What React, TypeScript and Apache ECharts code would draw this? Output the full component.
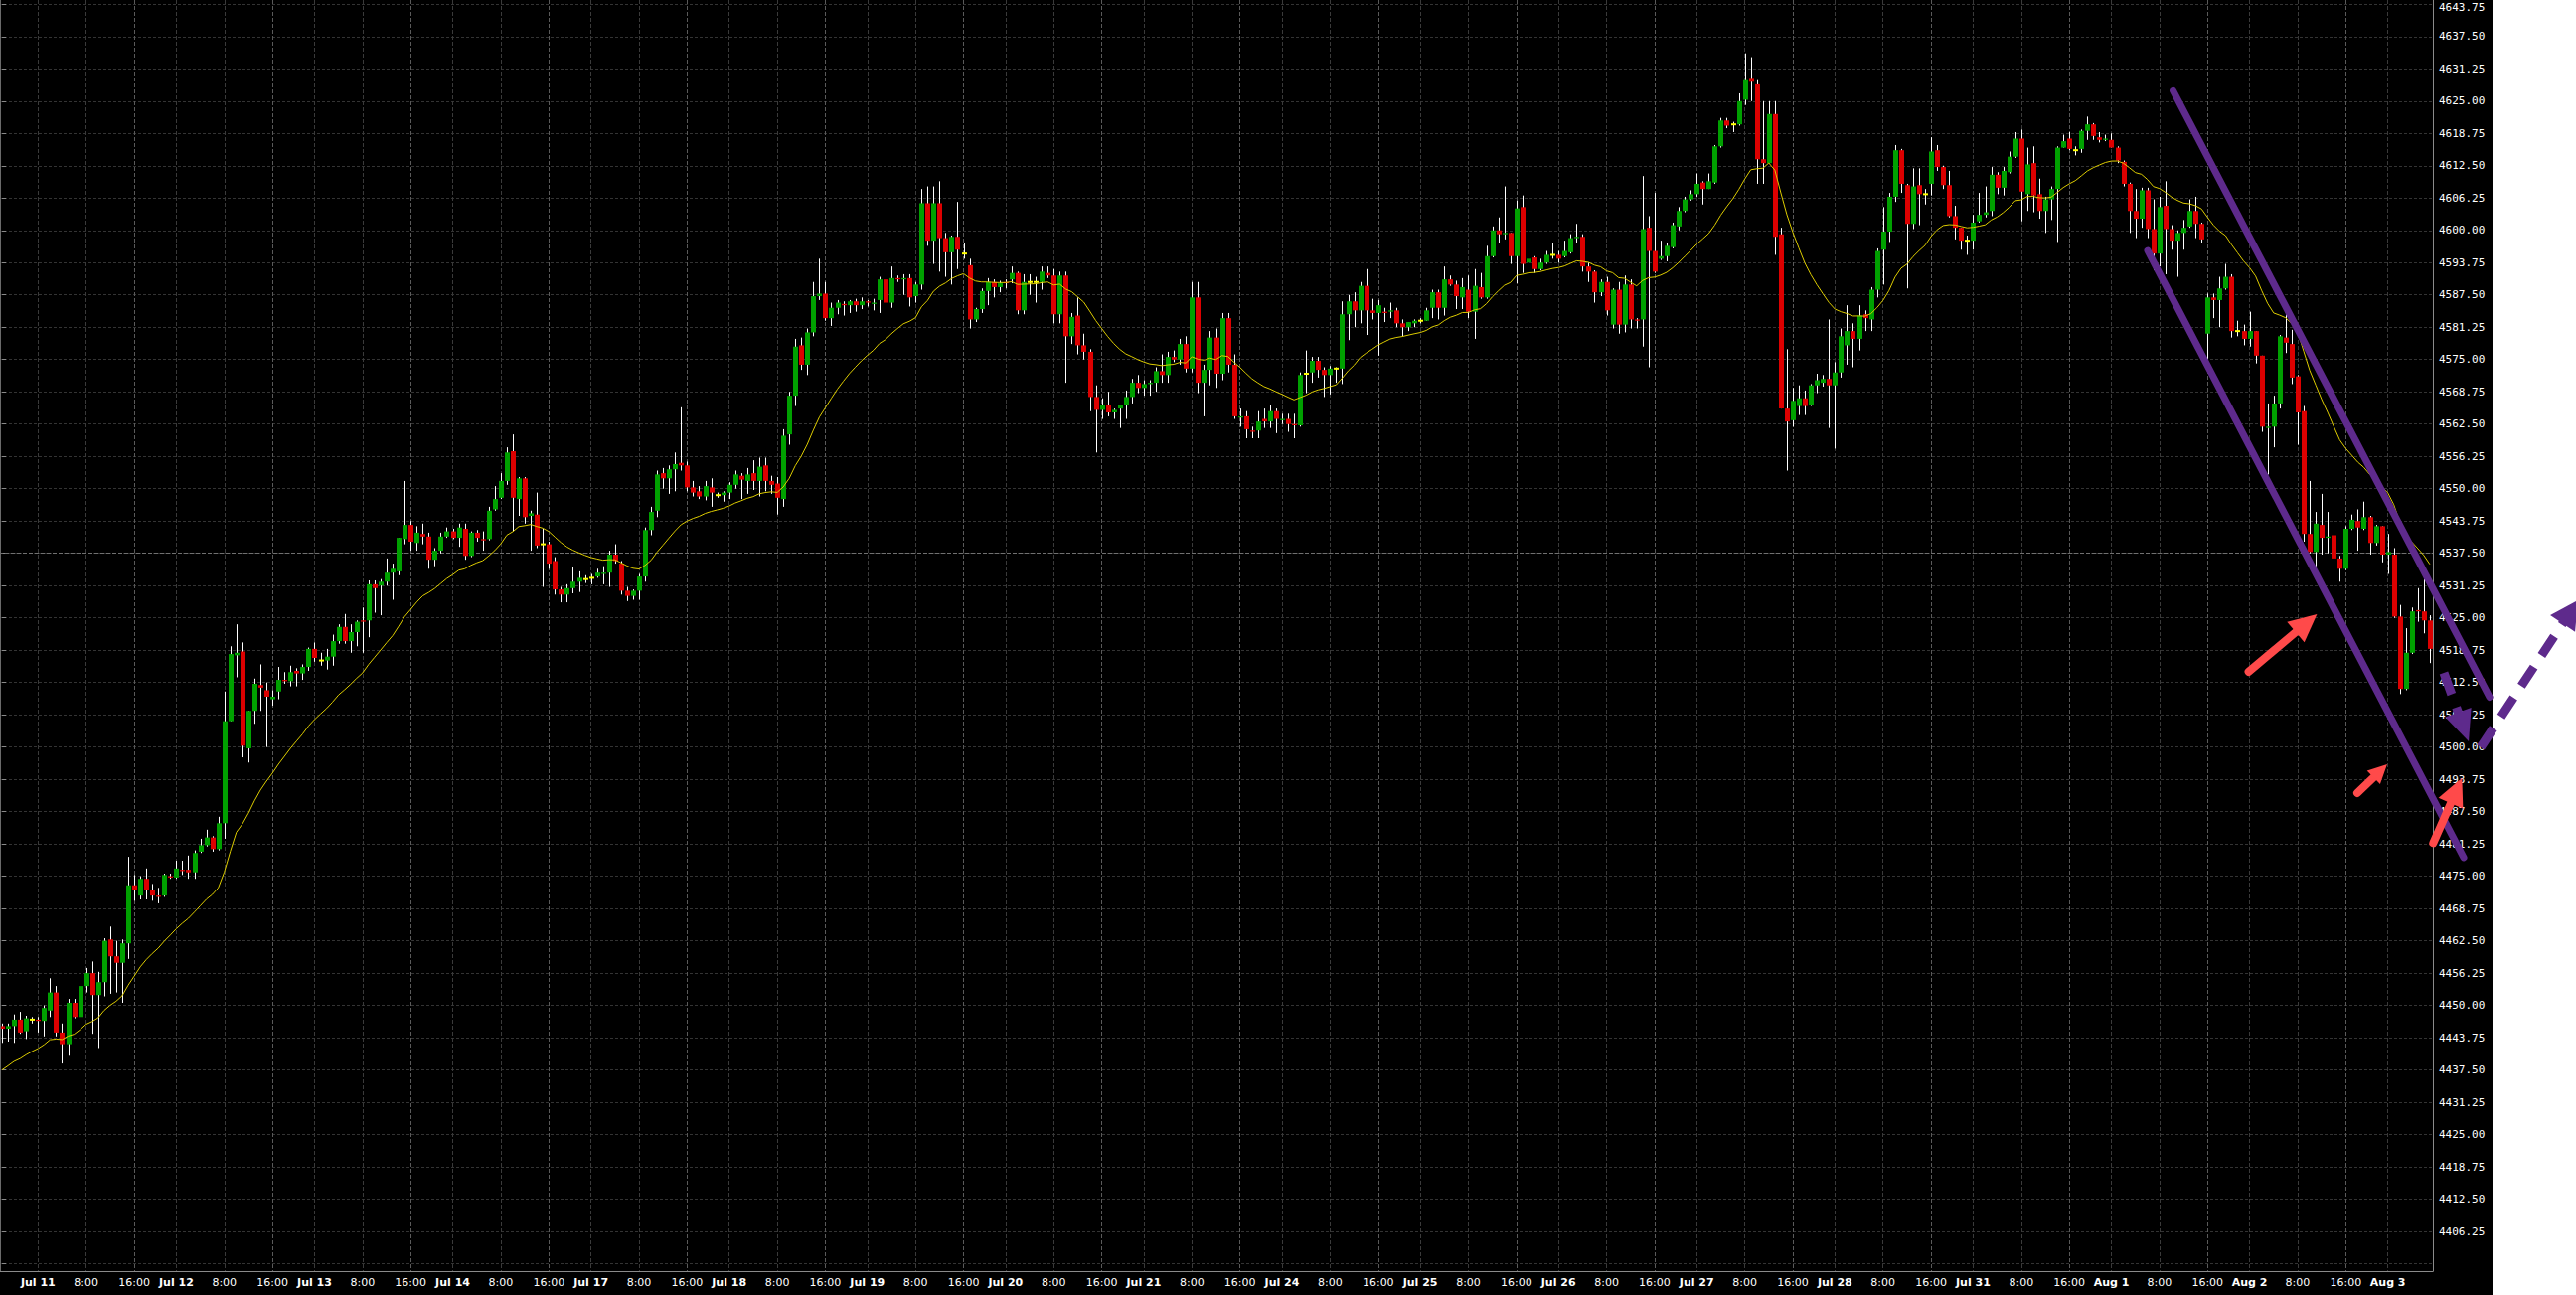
import React, { useEffect, useRef } from 'react';
import * as echarts from 'echarts';

const sessionDays = ['Jul 10', 'Jul 11', 'Jul 12', 'Jul 13', 'Jul 14', 'Jul 17', 'Jul 18', 'Jul 19', 'Jul 20', 'Jul 21', 'Jul 24', 'Jul 25', 'Jul 26', 'Jul 27', 'Jul 28', 'Jul 31', 'Aug 1', 'Aug 2', 'Aug 3'];
const sessionHours = [0, 1, 2, 3, 4, 5, 6, 7, 8, 9, 10, 11, 12, 13, 14, 15, 16, 18, 19, 20, 21, 22, 23];
const firstDayHours = [18, 19, 20, 21, 22, 23];
const lastDayHours = [0, 1, 2, 3, 4, 5, 6, 7];
const labelHours = [0, 8, 16];

const opens = [
  4446.0, 4445.5, 4446.0, 4447.25, 4445.0, 4447.25, 4447.25, 4447.0, 4449.0, 4452.5,
  4444.75, 4442.5, 4450.5, 4447.75, 4453.75, 4456.25, 4452.0, 4454.5, 4462.75, 4459.5,
  4458.25, 4462.0, 4473.25, 4471.25, 4474.5, 4472.25, 4471.25, 4471.25, 4475.0, 4474.75,
  4476.25, 4476.25, 4475.75, 4479.75, 4481.0, 4482.5, 4480.25, 4485.25, 4505.0, 4517.75,
  4518.5, 4499.75, 4507.0, 4512.0, 4511.0, 4509.25, 4510.75, 4513.0, 4512.75, 4514.75,
  4514.25, 4515.5, 4519.0, 4516.75, 4516.75, 4517.5, 4520.5, 4523.25, 4520.5, 4522.25,
  4524.5, 4524.5, 4531.5, 4531.25, 4532.0, 4533.75, 4534.0, 4540.25, 4543.0, 4539.5,
  4541.25, 4540.75, 4536.25, 4538.0, 4540.75, 4541.75, 4540.5, 4542.25, 4537.0, 4541.5,
  4540.25, 4540.25, 4546.0, 4548.25, 4551.5, 4557.25, 4548.0, 4552.0, 4544.75, 4545.0,
  4539.25, 4539.25, 4536.0, 4530.5, 4529.5, 4530.75, 4532.0, 4532.5, 4532.75, 4533.0,
  4533.5, 4533.75, 4537.25, 4535.5, 4530.25, 4529.25, 4530.25, 4533.0, 4542.0, 4545.75,
  4553.0, 4552.0, 4553.75, 4555.0, 4554.5, 4550.25, 4549.5, 4548.5, 4550.25, 4548.75,
  4548.75, 4549.25, 4550.75, 4552.5, 4551.5, 4553.0, 4551.5, 4554.5, 4551.5, 4551.0,
  4548.0, 4560.5, 4568.0, 4577.75, 4574.0, 4580.25, 4587.25, 4587.75, 4583.0, 4585.0,
  4585.75, 4585.5, 4586.25, 4585.5, 4586.25, 4585.75, 4586.5, 4590.5, 4586.0, 4590.75,
  4590.5, 4590.75, 4587.25, 4589.5, 4605.25, 4598.0, 4605.25, 4598.5, 4595.75, 4598.75,
  4595.5, 4593.25, 4582.75, 4584.75, 4588.25, 4590.0, 4589.0, 4590.0, 4590.5, 4591.75,
  4584.5, 4590.0, 4590.0, 4590.0, 4591.75, 4591.25, 4583.75, 4591.25, 4579.5, 4583.5,
  4577.75, 4576.5, 4567.75, 4565.25, 4566.25, 4564.75, 4565.5, 4566.25, 4567.75, 4570.5,
  4569.5, 4570.25, 4570.5, 4572.75, 4572.0, 4575.5, 4575.0, 4578.0, 4573.25, 4587.0,
  4570.5, 4573.0, 4579.25, 4572.25, 4583.0, 4574.0, 4563.75, 4564.0, 4561.25, 4561.25,
  4563.5, 4563.0, 4565.0, 4563.25, 4563.5, 4562.5, 4562.25, 4572.25, 4572.5, 4574.75,
  4573.0, 4572.0, 4573.25, 4573.25, 4583.75, 4586.25, 4584.5, 4589.25, 4584.5, 4584.0,
  4584.25, 4584.25, 4584.5, 4582.0, 4581.25, 4582.0, 4582.5, 4582.5, 4585.0, 4588.0,
  4585.0, 4590.5, 4589.5, 4587.0, 4588.5, 4584.25, 4589.0, 4587.0, 4595.0, 4600.0,
  4599.25, 4599.5, 4595.0, 4604.5, 4593.75, 4594.75, 4592.5, 4593.75, 4595.25, 4595.25,
  4595.0, 4595.75, 4598.5, 4598.75, 4593.0, 4592.0, 4588.0, 4590.0, 4581.75, 4588.5,
  4581.75, 4589.5, 4582.75, 4582.75, 4600.5, 4596.0, 4594.5, 4595.0, 4596.75, 4600.75,
  4603.75, 4606.0, 4607.0, 4609.25, 4608.0, 4609.25, 4616.25, 4621.25, 4620.5, 4620.5,
  4625.25, 4629.5, 4628.25, 4613.75, 4613.0, 4622.5, 4599.25, 4565.5, 4563.25, 4566.0,
  4567.5, 4566.25, 4570.0, 4570.5, 4571.25, 4570.0, 4572.5, 4577.75, 4580.5, 4579.0,
  4583.75, 4582.75, 4588.5, 4596.25, 4599.75, 4606.5, 4615.5, 4608.75, 4601.25, 4608.75,
  4607.0, 4609.0, 4615.5, 4612.25, 4608.75, 4602.75, 4600.5, 4598.0, 4598.0, 4601.75,
  4603.0, 4603.75, 4610.75, 4608.25, 4611.25, 4614.25, 4617.75, 4607.0, 4613.0, 4607.0,
  4603.75, 4606.0, 4608.0, 4616.0, 4617.75, 4615.5, 4615.75, 4619.25, 4620.5, 4618.0,
  4617.5, 4617.5, 4616.0, 4613.25, 4609.0, 4603.75, 4602.25, 4607.75, 4600.25, 4595.5,
  4604.75, 4600.25, 4598.0, 4599.5, 4600.75, 4603.75, 4601.25, 4580.0, 4587.0, 4586.5,
  4588.75, 4591.0, 4580.5, 4580.5, 4579.0, 4580.5, 4575.75, 4561.75, 4562.0, 4566.5,
  4579.25, 4578.0, 4571.75, 4565.0, 4541.25, 4537.75, 4543.0, 4540.5, 4541.0, 4536.5,
  4534.5, 4542.25, 4543.75, 4542.25, 4544.5, 4539.5, 4542.75, 4537.25, 4537.25, 4525.25,
  4511.25, 4518.25, 4526.5, 4526.25, 4524.5,
];

const highs = [
  4446.5, 4446.5, 4448.25, 4448.75, 4448.0, 4447.75, 4447.75, 4450.0, 4455.25, 4453.75,
  4446.5, 4451.25, 4451.25, 4455.0, 4457.25, 4458.5, 4456.5, 4463.0, 4465.25, 4462.5,
  4462.75, 4478.75, 4475.25, 4475.0, 4476.5, 4473.5, 4472.75, 4475.5, 4475.5, 4478.0,
  4478.0, 4479.0, 4480.0, 4482.25, 4484.0, 4482.75, 4486.5, 4510.75, 4519.5, 4523.75,
  4520.25, 4507.0, 4513.25, 4516.0, 4512.5, 4511.0, 4515.5, 4514.5, 4515.75, 4515.25,
  4516.0, 4519.25, 4520.25, 4518.25, 4519.0, 4521.75, 4523.75, 4525.75, 4523.75, 4524.5,
  4527.0, 4532.25, 4532.25, 4532.5, 4536.5, 4535.5, 4540.5, 4551.5, 4543.75, 4542.75,
  4543.25, 4541.5, 4538.5, 4541.5, 4542.5, 4542.25, 4543.25, 4543.25, 4541.75, 4542.0,
  4541.75, 4546.5, 4550.5, 4553.0, 4558.0, 4560.5, 4552.25, 4552.25, 4545.75, 4549.25,
  4542.25, 4539.75, 4536.75, 4531.0, 4531.5, 4534.75, 4534.0, 4533.25, 4533.5, 4534.5,
  4535.0, 4538.0, 4539.25, 4536.0, 4531.0, 4530.5, 4533.5, 4542.5, 4546.5, 4553.5,
  4554.0, 4554.5, 4557.0, 4565.75, 4555.25, 4551.5, 4550.5, 4551.5, 4552.0, 4549.25,
  4549.5, 4551.25, 4553.5, 4553.0, 4554.0, 4555.5, 4556.0, 4556.0, 4552.5, 4552.25,
  4561.5, 4568.75, 4579.0, 4579.25, 4581.0, 4590.0, 4594.5, 4590.0, 4586.0, 4586.5,
  4586.25, 4586.5, 4586.75, 4587.0, 4586.5, 4586.75, 4591.0, 4592.5, 4593.0, 4591.25,
  4591.5, 4591.5, 4590.0, 4608.0, 4608.5, 4608.5, 4609.5, 4599.5, 4599.0, 4605.5,
  4597.5, 4594.5, 4585.0, 4588.75, 4590.75, 4590.5, 4590.25, 4590.5, 4593.0, 4592.0,
  4591.5, 4591.5, 4591.0, 4593.0, 4593.0, 4592.5, 4592.0, 4592.0, 4584.0, 4587.0,
  4580.0, 4577.0, 4570.0, 4567.5, 4568.75, 4565.5, 4566.25, 4569.0, 4571.25, 4572.0,
  4571.0, 4571.0, 4573.5, 4576.0, 4576.5, 4576.75, 4579.0, 4579.5, 4590.0, 4590.0,
  4574.0, 4580.5, 4581.0, 4584.0, 4584.0, 4576.0, 4565.5, 4565.0, 4562.0, 4565.0,
  4565.5, 4566.25, 4565.5, 4564.5, 4564.5, 4564.5, 4572.5, 4576.75, 4575.5, 4575.5,
  4573.5, 4573.75, 4573.5, 4586.25, 4587.5, 4588.0, 4590.0, 4592.5, 4586.75, 4586.5,
  4585.0, 4586.0, 4585.0, 4582.75, 4582.25, 4582.75, 4583.0, 4585.0, 4588.5, 4588.5,
  4593.0, 4591.25, 4590.25, 4590.75, 4591.25, 4592.5, 4591.75, 4597.0, 4600.75, 4602.5,
  4608.5, 4599.5, 4605.75, 4606.75, 4595.0, 4595.0, 4594.5, 4596.0, 4597.5, 4596.0,
  4598.0, 4599.25, 4601.25, 4599.25, 4593.75, 4592.25, 4590.5, 4591.0, 4588.75, 4590.0,
  4591.25, 4590.5, 4583.0, 4610.5, 4602.75, 4607.25, 4598.0, 4597.5, 4601.5, 4604.5,
  4606.5, 4607.75, 4611.0, 4609.5, 4611.0, 4616.5, 4621.75, 4621.75, 4621.0, 4626.5,
  4634.25, 4633.5, 4629.25, 4625.0, 4625.0, 4625.0, 4600.5, 4577.0, 4569.5, 4570.0,
  4569.0, 4570.25, 4572.25, 4572.0, 4582.75, 4574.5, 4581.0, 4585.5, 4582.0, 4585.5,
  4584.5, 4589.0, 4596.5, 4604.5, 4607.25, 4616.5, 4615.75, 4609.0, 4612.0, 4612.0,
  4608.0, 4618.0, 4616.5, 4612.5, 4611.5, 4604.75, 4600.5, 4599.0, 4603.0, 4607.25,
  4608.5, 4612.25, 4611.25, 4612.25, 4615.25, 4619.0, 4619.5, 4616.0, 4616.25, 4610.0,
  4606.5, 4608.5, 4616.25, 4618.5, 4619.0, 4616.25, 4619.5, 4622.0, 4620.75, 4619.0,
  4618.5, 4618.75, 4616.25, 4613.5, 4609.25, 4608.0, 4608.25, 4608.25, 4606.0, 4606.5,
  4609.5, 4601.0, 4600.0, 4602.0, 4606.0, 4606.5, 4601.5, 4587.75, 4587.75, 4591.0,
  4593.5, 4591.5, 4582.5, 4581.75, 4584.25, 4580.5, 4575.75, 4566.5, 4568.0, 4579.75,
  4583.75, 4580.75, 4572.0, 4566.0, 4551.5, 4545.5, 4549.0, 4545.5, 4543.5, 4537.0,
  4542.75, 4545.0, 4546.0, 4547.5, 4544.75, 4543.0, 4542.75, 4541.25, 4538.5, 4527.5,
  4523.0, 4527.0, 4530.75, 4532.5, 4525.5,
];

const lows = [
  4442.75, 4443.0, 4442.75, 4444.5, 4443.5, 4446.5, 4444.75, 4444.0, 4447.75, 4444.0,
  4438.75, 4440.25, 4447.5, 4447.5, 4452.5, 4444.5, 4441.75, 4451.75, 4452.25, 4452.5,
  4450.5, 4459.0, 4470.25, 4470.5, 4470.5, 4470.25, 4469.75, 4471.0, 4474.5, 4474.5,
  4475.25, 4474.5, 4474.5, 4479.5, 4480.75, 4479.75, 4480.0, 4482.25, 4505.0, 4513.5,
  4498.0, 4497.0, 4504.5, 4507.0, 4500.0, 4508.0, 4509.25, 4512.25, 4511.75, 4511.75,
  4513.0, 4514.75, 4516.5, 4515.75, 4515.0, 4515.75, 4520.0, 4520.0, 4518.25, 4519.5,
  4518.25, 4521.25, 4526.0, 4525.5, 4531.25, 4528.5, 4533.25, 4539.25, 4538.0, 4538.0,
  4539.25, 4534.5, 4535.0, 4537.5, 4540.5, 4540.25, 4538.75, 4536.25, 4536.75, 4539.75,
  4538.0, 4540.0, 4545.75, 4548.0, 4550.75, 4541.75, 4544.75, 4543.25, 4538.0, 4538.5,
  4531.0, 4534.5, 4529.5, 4528.0, 4528.0, 4529.75, 4530.0, 4531.75, 4531.5, 4532.75,
  4531.5, 4531.0, 4535.5, 4529.5, 4528.25, 4528.5, 4528.5, 4532.0, 4541.0, 4544.5,
  4550.0, 4549.0, 4549.5, 4553.5, 4549.5, 4548.5, 4548.0, 4547.75, 4546.5, 4548.25,
  4547.5, 4548.0, 4550.0, 4548.0, 4549.0, 4549.75, 4548.5, 4549.5, 4549.0, 4545.0,
  4546.5, 4558.5, 4566.0, 4573.0, 4572.0, 4579.5, 4586.5, 4582.5, 4581.5, 4583.75,
  4583.5, 4584.0, 4584.25, 4584.75, 4585.25, 4584.5, 4584.0, 4584.5, 4585.0, 4590.0,
  4587.5, 4585.25, 4586.0, 4588.5, 4597.0, 4593.5, 4592.0, 4591.0, 4589.5, 4592.5,
  4594.5, 4581.0, 4582.25, 4584.0, 4585.5, 4587.0, 4588.0, 4588.75, 4589.75, 4583.75,
  4583.75, 4587.5, 4586.0, 4588.5, 4590.75, 4582.0, 4582.0, 4570.5, 4578.0, 4576.0,
  4575.0, 4565.0, 4557.0, 4563.5, 4564.0, 4563.5, 4561.75, 4563.5, 4566.5, 4568.5,
  4568.0, 4568.0, 4568.75, 4570.5, 4570.5, 4574.5, 4574.0, 4572.5, 4572.5, 4568.5,
  4564.0, 4570.0, 4569.5, 4571.0, 4572.5, 4563.5, 4562.0, 4559.75, 4559.75, 4559.75,
  4561.75, 4561.75, 4560.75, 4562.5, 4561.0, 4559.75, 4562.0, 4568.5, 4570.5, 4571.5,
  4567.75, 4568.25, 4570.5, 4570.25, 4578.75, 4581.25, 4582.0, 4579.75, 4582.75, 4575.75,
  4582.25, 4583.0, 4581.25, 4579.5, 4580.5, 4581.25, 4582.0, 4582.5, 4583.0, 4582.75,
  4583.5, 4589.25, 4584.75, 4584.75, 4583.0, 4579.0, 4586.75, 4586.75, 4594.75, 4597.5,
  4598.25, 4593.5, 4589.75, 4591.75, 4592.5, 4591.75, 4592.25, 4593.5, 4594.5, 4593.75,
  4594.75, 4595.5, 4597.5, 4592.0, 4590.0, 4586.0, 4587.25, 4583.5, 4581.0, 4580.0,
  4580.25, 4581.0, 4581.0, 4577.5, 4573.5, 4591.75, 4594.25, 4594.0, 4596.5, 4600.0,
  4603.5, 4605.75, 4606.5, 4605.0, 4608.0, 4609.0, 4616.0, 4619.75, 4619.0, 4620.25,
  4624.25, 4625.0, 4609.0, 4609.0, 4613.0, 4595.25, 4565.5, 4553.5, 4562.0, 4564.25,
  4564.25, 4566.0, 4568.5, 4569.75, 4561.75, 4557.75, 4571.5, 4574.0, 4573.5, 4576.75,
  4580.5, 4580.5, 4587.0, 4589.5, 4597.75, 4605.5, 4607.25, 4588.75, 4600.25, 4601.0,
  4605.0, 4606.75, 4611.5, 4608.0, 4602.5, 4598.25, 4596.25, 4595.25, 4596.25, 4601.5,
  4602.5, 4602.75, 4607.0, 4606.75, 4611.0, 4614.0, 4601.75, 4603.75, 4603.5, 4602.25,
  4599.5, 4602.0, 4597.75, 4616.0, 4615.5, 4614.5, 4615.0, 4617.5, 4617.5, 4617.0,
  4617.25, 4616.0, 4613.0, 4608.5, 4599.5, 4598.5, 4600.5, 4598.5, 4592.25, 4593.0,
  4591.5, 4596.25, 4591.0, 4596.25, 4600.5, 4598.5, 4597.5, 4575.0, 4583.0, 4581.25,
  4588.5, 4579.25, 4579.5, 4577.75, 4577.5, 4574.25, 4561.0, 4552.75, 4558.0, 4565.5,
  4576.25, 4570.25, 4558.5, 4539.75, 4537.5, 4535.0, 4537.25, 4537.5, 4528.25, 4532.0,
  4534.25, 4542.0, 4538.0, 4542.0, 4537.25, 4539.0, 4535.75, 4533.5, 4525.0, 4510.25,
  4511.0, 4518.0, 4524.25, 4522.0, 4516.25,
];

const closes = [
  4445.5, 4446.0, 4447.25, 4444.75, 4447.5, 4447.25, 4447.0, 4449.5, 4452.5, 4444.75,
  4442.5, 4450.5, 4447.75, 4453.75, 4456.25, 4452.0, 4454.5, 4462.5, 4459.5, 4458.25,
  4462.0, 4473.25, 4472.25, 4474.5, 4472.25, 4471.25, 4471.0, 4475.25, 4474.75, 4476.5,
  4476.0, 4475.75, 4479.5, 4481.0, 4482.5, 4480.25, 4485.25, 4505.0, 4518.0, 4518.25,
  4500.25, 4507.0, 4512.25, 4511.5, 4509.75, 4509.75, 4513.0, 4512.75, 4514.5, 4514.25,
  4515.5, 4519.0, 4517.25, 4516.75, 4517.5, 4520.5, 4523.25, 4520.5, 4522.25, 4524.25,
  4524.25, 4531.5, 4530.75, 4532.0, 4533.75, 4534.5, 4540.5, 4543.0, 4539.75, 4541.5,
  4540.75, 4536.25, 4538.0, 4540.75, 4541.75, 4540.5, 4542.5, 4537.0, 4541.5, 4540.5,
  4540.0, 4545.75, 4548.0, 4551.5, 4557.0, 4548.25, 4552.0, 4544.5, 4545.25, 4539.0,
  4539.25, 4535.5, 4530.5, 4529.5, 4530.75, 4532.0, 4532.75, 4532.5, 4532.75, 4533.75,
  4533.75, 4537.25, 4536.0, 4530.25, 4529.25, 4530.25, 4533.0, 4542.0, 4545.5, 4552.75,
  4552.0, 4553.75, 4554.75, 4554.5, 4550.25, 4549.25, 4548.5, 4550.5, 4549.25, 4548.75,
  4549.25, 4550.75, 4552.75, 4551.75, 4552.75, 4551.5, 4554.25, 4551.5, 4550.75, 4548.25,
  4560.25, 4568.0, 4577.5, 4574.0, 4580.25, 4587.25, 4587.75, 4583.0, 4585.0, 4586.0,
  4585.5, 4586.25, 4585.5, 4586.25, 4586.0, 4586.0, 4590.5, 4586.0, 4590.75, 4590.5,
  4590.75, 4587.0, 4589.5, 4605.25, 4598.0, 4605.25, 4598.5, 4595.75, 4598.75, 4596.25,
  4595.5, 4582.75, 4584.75, 4588.25, 4590.0, 4589.0, 4589.75, 4589.75, 4591.75, 4584.5,
  4590.0, 4590.0, 4590.0, 4592.0, 4591.25, 4583.75, 4591.25, 4579.5, 4583.25, 4577.75,
  4576.5, 4567.75, 4565.25, 4566.25, 4564.75, 4565.25, 4566.25, 4567.75, 4570.5, 4569.5,
  4570.25, 4570.5, 4572.75, 4572.0, 4575.5, 4575.0, 4578.0, 4573.25, 4587.0, 4570.5,
  4573.0, 4579.25, 4572.25, 4583.0, 4574.0, 4564.0, 4564.0, 4561.5, 4561.0, 4563.0,
  4563.0, 4565.0, 4563.5, 4563.5, 4562.5, 4562.25, 4572.0, 4572.25, 4574.75, 4573.0,
  4572.0, 4573.25, 4573.25, 4583.75, 4586.25, 4584.5, 4589.25, 4584.5, 4584.0, 4585.5,
  4584.0, 4584.5, 4582.0, 4581.25, 4582.25, 4582.5, 4582.5, 4584.5, 4588.0, 4585.0,
  4590.5, 4589.5, 4587.25, 4589.0, 4584.25, 4589.25, 4587.0, 4595.0, 4600.0, 4599.25,
  4599.5, 4595.0, 4604.25, 4593.5, 4594.5, 4592.5, 4593.75, 4595.25, 4595.25, 4594.5,
  4596.0, 4598.5, 4598.75, 4593.0, 4592.0, 4588.0, 4590.0, 4584.5, 4588.5, 4581.75,
  4589.5, 4582.75, 4582.5, 4600.25, 4596.0, 4592.0, 4595.0, 4597.0, 4601.0, 4603.75,
  4606.0, 4607.0, 4609.0, 4608.0, 4609.5, 4616.25, 4621.25, 4620.25, 4620.5, 4625.0,
  4629.25, 4628.75, 4613.75, 4613.0, 4622.5, 4598.75, 4565.5, 4563.0, 4567.0, 4567.5,
  4566.0, 4570.0, 4571.0, 4571.25, 4570.0, 4572.5, 4579.5, 4580.5, 4579.0, 4583.5,
  4583.0, 4588.5, 4596.0, 4599.75, 4606.5, 4615.5, 4609.0, 4601.25, 4608.5, 4607.0,
  4607.0, 4615.25, 4612.25, 4608.75, 4602.75, 4600.5, 4598.0, 4598.0, 4601.5, 4603.0,
  4603.5, 4610.75, 4608.25, 4611.5, 4614.25, 4617.75, 4607.5, 4612.75, 4606.75, 4603.75,
  4606.0, 4608.0, 4616.0, 4617.25, 4615.75, 4615.5, 4619.25, 4620.5, 4618.25, 4617.5,
  4617.75, 4616.0, 4613.5, 4609.0, 4603.75, 4602.25, 4607.75, 4600.25, 4595.5, 4604.5,
  4600.25, 4598.0, 4599.5, 4600.5, 4603.75, 4601.25, 4598.25, 4587.0, 4586.5, 4588.75,
  4591.0, 4580.5, 4580.5, 4579.0, 4580.5, 4575.75, 4562.0, 4562.0, 4566.5, 4579.5,
  4578.25, 4571.5, 4564.75, 4541.25, 4537.75, 4543.25, 4540.5, 4540.75, 4536.5, 4534.5,
  4542.25, 4544.0, 4542.5, 4544.5, 4539.5, 4542.75, 4537.25, 4537.75, 4525.25, 4511.25,
  4518.25, 4526.25, 4526.25, 4524.5, 4519.0,
];

const yMin = 4393.75;
const yMax = 4650;
const yStep = 6.25;
const yLabelLow = 4406;
const yLabelHigh = 4645;
const yTopLabel = 4643.75;
const refPrice = 4537.5;
const maPeriod = 20;
const maSeed = 4437.5;

// annotations: [category index, price]
const channelLines = [
  [[361.27, 4627.0], [413.93, 4509.65]],
  [[357.04, 4596.07], [409.63, 4478.59]],
];
const dashedArrows = [
  { from: [406.32, 4514.36], to: [410.46, 4501.09], head: [31, 28] },
  { from: [412.45, 4499.93], to: [428.65, 4528.4], head: [28, 30] },
];
const redArrows = [
  { from: [373.84, 4514.57], to: [385.22, 4525.71], head: [28, 27] },
  { from: [391.93, 4491.09], to: [396.89, 4496.66], head: [19, 19] },
  { from: [404.55, 4481.41], to: [409.35, 4494.03], head: [28, 27] },
];

const GREEN = '#00a000';
const RED = '#dd0000';
const DOJI = '#ffff00';
const PURPLE = '#5e2a8c';
const ARROW_RED = '#ff4a4a';

const categories: string[] = [];
sessionDays.forEach((d, k) => {
  const hrs = k === 0 ? firstDayHours : k === sessionDays.length - 1 ? lastDayHours : sessionHours;
  hrs.forEach((h) => categories.push(`${d}|${h}`));
});

const candleData = opens.map((o, i) => [i, o, closes[i], lows[i], highs[i]]);

const ema: number[] = [];
{
  const k = 2 / (maPeriod + 1);
  let prev = maSeed;
  closes.forEach((c, i) => {
    if (i > 0) prev = prev + k * (c - prev);
    ema.push(+prev.toFixed(3));
  });
}

const isLabelCat = (_idx: number, value: string) => labelHours.indexOf(+String(value).split('|')[1]) >= 0;

// the chart canvas is larger than the page and offset, so that the price grid can start above the page top
const OFF_X = 10;
const OFF_Y = 40;

export default function App() {
  const ref = useRef<HTMLDivElement>(null);
  useEffect(() => {
    if (!ref.current) return;
    const chart = echarts.init(ref.current, undefined, { renderer: 'svg' });
    const gridLeft = OFF_X - 1;
    const gridWidth = 2449;
    const pxPerUnit = 5.199;
    const topPx = OFF_Y + 4.3 - (yMax - 4643.75) * pxPerUnit;
    const heightPx = (yMax - yMin) * pxPerUnit;
    const option: any = {
      animation: false,
      backgroundColor: 'transparent',
      grid: [
        { left: gridLeft, width: gridWidth, top: topPx, height: heightPx, outerBoundsMode: 'none', containLabel: false },
        { left: gridLeft, width: gridWidth, top: OFF_Y, height: 1279, outerBoundsMode: 'none', containLabel: false },
      ],
      xAxis: [
        { type: 'category', gridIndex: 0, data: categories, boundaryGap: true, show: false },
        {
          type: 'category', gridIndex: 1, data: categories, boundaryGap: true,
          axisLine: { show: true, lineStyle: { color: '#8a8a8a', width: 1 } },
          axisTick: { show: false },
          axisLabel: {
            show: true, interval: isLabelCat, margin: 6,
            formatter: (v: string) => {
              const [d, h] = String(v).split('|');
              return h === '0' ? `{d|${d}}` : `{t|${h}:00}`;
            },
            rich: {
              d: { color: '#ffffff', fontFamily: 'DejaVu Sans', fontWeight: 'bold', fontSize: 11 },
              t: { color: '#ffffff', fontFamily: 'DejaVu Sans', fontSize: 11 },
            },
          },
          splitLine: {
            show: true, interval: isLabelCat, alignWithLabel: true,
            lineStyle: { color: ['#3a3a3a', '#3a3a3a', '#5a5a5a'], type: [4, 2], width: 1 },
          },
        },
        { type: 'value', gridIndex: 0, min: -0.5, max: 404.5, show: false, position: 'top' },
      ],
      yAxis: [
        {
          type: 'value', gridIndex: 0, position: 'right', min: yMin, max: yMax, interval: yStep,
          axisLine: { show: false },
          axisTick: { show: true, length: 4, lineStyle: { color: '#8a8a8a' } },
          axisLabel: {
            show: true, margin: 6, color: '#ffffff', fontFamily: 'DejaVu Sans Mono', fontSize: 11,
            formatter: (v: number) => {
              if (v < yLabelLow || v > yLabelHigh) return '';
              return v === yTopLabel ? `{top|${v.toFixed(2)}}` : v.toFixed(2);
            },
            rich: {
              top: { color: '#ffffff', fontFamily: 'DejaVu Sans Mono', fontSize: 11, padding: [6, 0, 0, 0] },
            },
          },
          splitLine: { show: true, lineStyle: { color: '#333333', type: [3, 2], width: 1 } },
        },
        {
          type: 'value', gridIndex: 1, position: 'right', min: 0, max: 1,
          axisLine: { show: true, lineStyle: { color: '#8a8a8a', width: 1 } },
          axisTick: { show: false }, axisLabel: { show: false }, splitLine: { show: false },
        },
      ],
      series: [
        {
          type: 'custom', name: 'ES', xAxisIndex: 0, yAxisIndex: 0, z: 3, clip: false,
          data: candleData,
          encode: { x: 0, y: [1, 2, 3, 4] },
          renderItem: (_params: any, api: any) => {
            const i = api.value(0);
            const o = api.value(1), c = api.value(2), l = api.value(3), h = api.value(4);
            const pH = api.coord([i, h]);
            const pL = api.coord([i, l]);
            const pO = api.coord([i, o]);
            const pC = api.coord([i, c]);
            const cx = Math.round(pH[0]) + 0.5;
            const children: any[] = [
              { type: 'line', shape: { x1: cx, y1: pH[1], x2: cx, y2: pL[1] }, style: { stroke: '#ffffff', lineWidth: 1 } },
            ];
            if (o === c) {
              children.push({ type: 'rect', shape: { x: cx - 2.5, y: pO[1] - 1, width: 5, height: 2 }, style: { fill: DOJI } });
            } else {
              const top = Math.min(pO[1], pC[1]);
              const hgt = Math.max(1, Math.abs(pO[1] - pC[1]));
              children.push({ type: 'rect', shape: { x: cx - 2.5, y: top, width: 5, height: hgt }, style: { fill: c > o ? GREEN : RED } });
            }
            return { type: 'group', children };
          },
        },
        {
          type: 'line', name: 'MA', xAxisIndex: 0, yAxisIndex: 0, z: 4,
          data: ema, showSymbol: false, symbol: 'none', smooth: false,
          lineStyle: { color: '#ddcc00', width: 1 },
          markLine: {
            z: 1, silent: true, symbol: 'none', label: { show: false }, animation: false,
            lineStyle: { color: '#707070', type: [4, 2], width: 1 },
            data: [{ yAxis: refPrice }],
          },
        },
      ],
    };
    chart.setOption(option);

    const px = (p: number[]) => chart.convertToPixel({ xAxisIndex: 2, yAxisIndex: 0 } as any, p) as unknown as number[];
    const elements: any[] = [];
    // left frame line of the plot
    elements.push({
      type: 'line', z: 50, silent: true,
      shape: { x1: OFF_X + 0.5, y1: OFF_Y, x2: OFF_X + 0.5, y2: OFF_Y + 1279 },
      style: { stroke: '#6a6a6a', lineWidth: 1 },
    });
    const addLine = (a: number[], b: number[], style: any) =>
      elements.push({ type: 'line', z: 100, silent: true, shape: { x1: a[0], y1: a[1], x2: b[0], y2: b[1] }, style });
    channelLines.forEach((seg) => addLine(px(seg[0]), px(seg[1]), { stroke: PURPLE, lineWidth: 7, lineCap: 'round' }));
    const arrow = (from: number[], to: number[], head: number[], color: string, width: number, dash?: number[]) => {
      const a = px(from), b = px(to);
      const dx = b[0] - a[0], dy = b[1] - a[1];
      const len = Math.hypot(dx, dy);
      const ux = dx / len, uy = dy / len;
      const [hl, hw] = head;
      const base = [b[0] - ux * hl, b[1] - uy * hl];
      const nx = -uy, ny = ux;
      const style: any = { stroke: color, lineWidth: width, lineCap: dash ? 'butt' : 'round' };
      if (dash) style.lineDash = dash;
      addLine(a, [base[0] + ux * 2, base[1] + uy * 2], style);
      elements.push({
        type: 'polygon', z: 101, silent: true,
        shape: { points: [[b[0], b[1]], [base[0] + nx * hw / 2, base[1] + ny * hw / 2], [base[0] - nx * hw / 2, base[1] - ny * hw / 2]] },
        style: { fill: color },
      });
    };
    dashedArrows.forEach((d) => arrow(d.from, d.to, d.head, PURPLE, 9, [23, 14]));
    redArrows.forEach((d) => arrow(d.from, d.to, d.head, ARROW_RED, 8));
    chart.setOption({ graphic: { elements } });

    return () => chart.dispose();
  }, []);

  return (
    <div
      style={{
        position: 'absolute', left: 0, top: 0, width: 2592, height: 1303, overflow: 'hidden',
        background: 'linear-gradient(to right, #000000 0px, #000000 2508px, #ffffff 2508px, #ffffff 2592px)',
      }}
    >
      <div ref={ref} style={{ position: 'absolute', left: -OFF_X, top: -OFF_Y, width: 2592 + OFF_X + 10, height: 1303 + OFF_Y + 40 }} />
    </div>
  );
}
